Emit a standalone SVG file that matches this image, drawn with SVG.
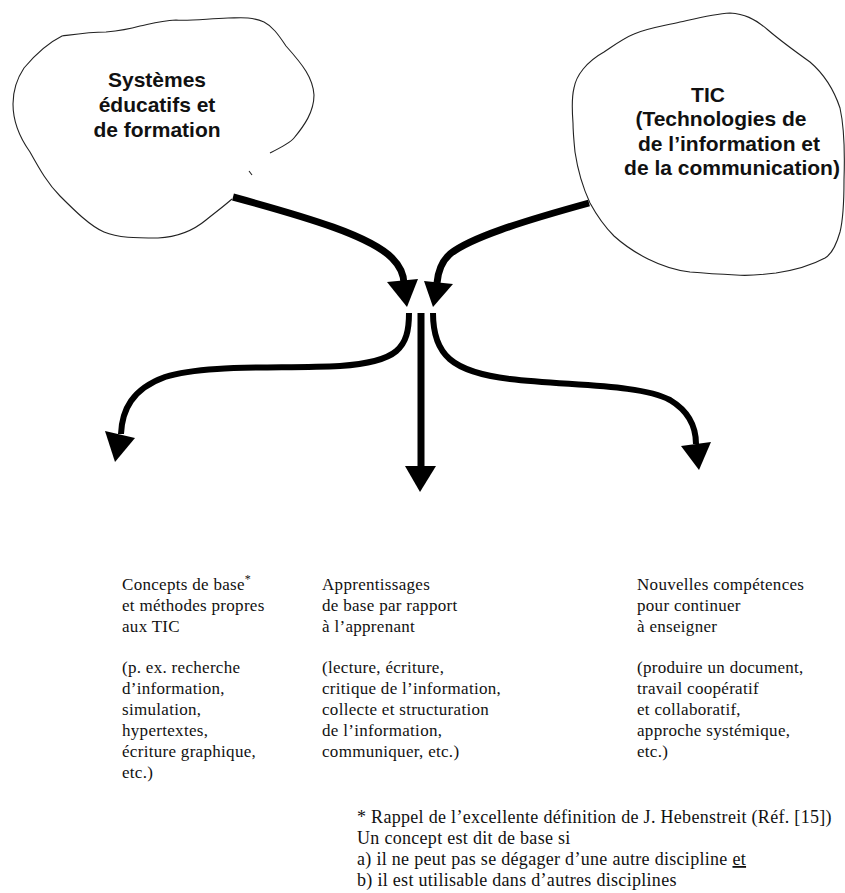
<svg xmlns="http://www.w3.org/2000/svg" width="845" height="893" viewBox="0 0 845 893">
  <style>
    .cloud { fill: #ffffff; stroke: #222; stroke-width: 1.1; stroke-linejoin: round; }
    .ctext { font-family: "Liberation Sans", Arial, sans-serif; font-weight: bold; font-size: 21px; fill: #111; text-anchor: middle; }
    .body { font-family: "Liberation Serif", "Times New Roman", serif; font-size: 17px; letter-spacing: 0.3px; fill: #111; }
    .note { font-family: "Liberation Serif", "Times New Roman", serif; font-size: 18px; letter-spacing: 0.3px; fill: #111; }
    .flow { fill: none; stroke: #000; stroke-linecap: butt; stroke-linejoin: round; }
    .head { fill: #000; }
  </style>

  <!-- left cloud: education and training systems -->
  <g id="cloud-systemes">
    <path class="cloud" d="M270,153 C282,147 291,142 294,138 C304,126 314,112 314,95 C313,78 303,65 286,46 C278,34 272,26 264,22 C250,16 238,18 228,18 C205,19 188,21 176,20 C160,21 150,24 140,26 C126,30 117,31 106,32 C90,32 77,34 62,36 C46,44 34,56 24,68 C16,80 13,90 13,104 C13,122 20,138 30,152 C40,170 48,184 60,196 C74,210 90,226 104,232 C118,238 136,238 158,238 C178,237 194,230 206,220 C216,212 224,206 232,199" />
    <path class="cloud" d="M249,171 L252,175" />
    <text class="ctext" x="157" y="87">Systèmes</text>
    <text class="ctext" x="157" y="112">éducatifs et</text>
    <text class="ctext" x="157" y="137">de formation</text>
  </g>

  <!-- right cloud: ICT -->
  <g id="cloud-tic">
    <path class="cloud" d="M573,123 C572,110 572,96 574,88 C576,76 586,62 604,52 C616,44 624,38 634,34 C648,28 664,26 680,22 C698,18 714,14 730,13 C744,14 754,18 768,30 C782,42 796,52 810,62 C824,74 834,90 840,108 C844,126 845,150 844,180 C844,204 843,220 840,232 C836,246 832,254 825,258 C812,265 796,270 776,273 C760,275 748,276 736,275 C716,274 702,273 690,272 C672,270 660,265 648,259 C634,252 624,245 614,236 C604,226 596,214 590,203 C584,190 578,172 575,152 C574,142 573,132 573,123 Z" />
    <text class="ctext" x="708" y="102">TIC</text>
    <text class="ctext" x="721" y="126">(Technologies de</text>
    <text class="ctext" x="729" y="151">de l’information et</text>
    <text class="ctext" x="732" y="175">de la communication)</text>
  </g>

  <!-- flow arrows -->
  <g id="connectors">
    <!-- incoming from the two clouds -->
    <path class="flow" stroke-width="7" d="M233,197 C310,218 370,236 392,258 C401,267 404,276 404,284" />
    <polygon class="head" points="387,282 418,279 407,307" />
    <path class="flow" stroke-width="7" d="M589,203 C520,222 470,238 450,254 C441,262 438,272 437,283" />
    <polygon class="head" points="424,281 453,284 433,307" />

    <!-- outgoing towards the three outcomes -->
    <path class="flow" stroke-width="6" d="M409,313 C409,348 398,362 340,366 C280,369 205,364 165,377 C132,389 122,410 121,434" />
    <polygon class="head" points="105,431 135,438 115,462" />
    <path class="flow" stroke-width="7" d="M421,313 L421,468" />
    <polygon class="head" points="405,466 436,466 420,492" />
    <path class="flow" stroke-width="6" d="M433,313 C433,355 452,372 510,379 C570,386 640,384 670,400 C690,412 696,428 696,444" />
    <polygon class="head" points="681,446 711,442 699,470" />
  </g>

  <!-- outcome: basic ICT concepts -->
  <g id="node-concepts">
    <text class="body" x="122" y="590">Concepts de base<tspan dy="-7" font-size="12">*</tspan></text>
    <text class="body" x="122" y="611">et méthodes propres</text>
    <text class="body" x="122" y="632">aux TIC</text>
    <text class="body" x="122" y="673">(p. ex. recherche</text>
    <text class="body" x="122" y="694">d’information,</text>
    <text class="body" x="122" y="715">simulation,</text>
    <text class="body" x="122" y="736">hypertextes,</text>
    <text class="body" x="122" y="757">écriture graphique,</text>
    <text class="body" x="122" y="778">etc.)</text>
  </g>

  <!-- outcome: basic learning skills -->
  <g id="node-apprentissages">
    <text class="body" x="322" y="590">Apprentissages</text>
    <text class="body" x="322" y="611">de base par rapport</text>
    <text class="body" x="322" y="632">à l’apprenant</text>
    <text class="body" x="322" y="673">(lecture, écriture,</text>
    <text class="body" x="322" y="694">critique de l’information,</text>
    <text class="body" x="322" y="715">collecte et structuration</text>
    <text class="body" x="322" y="736">de l’information,</text>
    <text class="body" x="322" y="757">communiquer, etc.)</text>
  </g>

  <!-- outcome: new teaching skills -->
  <g id="node-competences">
    <text class="body" x="637" y="590">Nouvelles compétences</text>
    <text class="body" x="637" y="611">pour continuer</text>
    <text class="body" x="637" y="632">à enseigner</text>
    <text class="body" x="637" y="673">(produire un document,</text>
    <text class="body" x="637" y="694">travail coopératif</text>
    <text class="body" x="637" y="715">et collaboratif,</text>
    <text class="body" x="637" y="736">approche systémique,</text>
    <text class="body" x="637" y="757">etc.)</text>
  </g>

  <!-- footnote -->
  <g id="footnote">
    <text class="note" x="357" y="823">* Rappel de l’excellente définition de J. Hebenstreit (Réf. [15])</text>
    <text class="note" x="357" y="844">Un concept est dit de base si</text>
    <text class="note" x="357" y="865">a) il ne peut pas se dégager d’une autre discipline <tspan text-decoration="underline">et</tspan></text>
    <text class="note" x="357" y="886">b) il est utilisable dans d’autres disciplines</text>
  </g>
</svg>
